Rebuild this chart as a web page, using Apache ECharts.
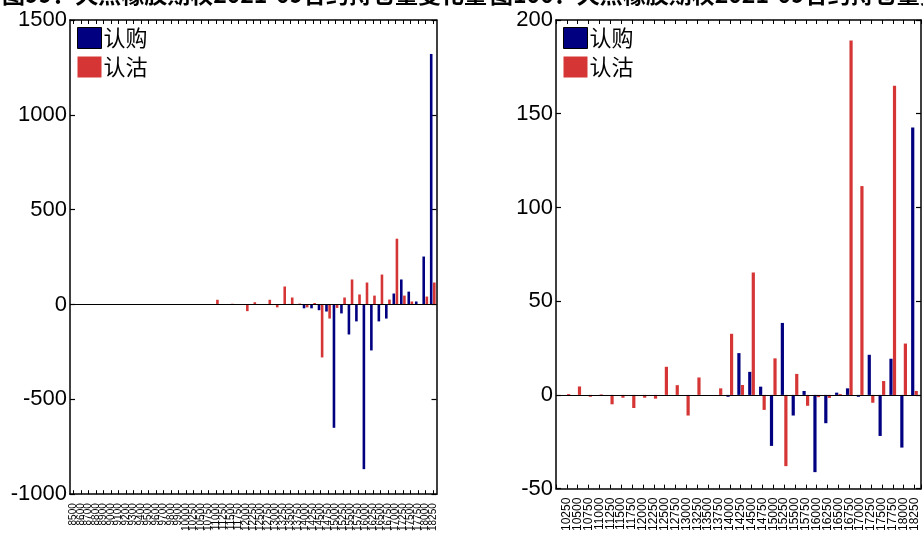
<!DOCTYPE html>
<html>
<head>
<meta charset="utf-8">
<script src="https://cdn.jsdelivr.net/npm/echarts@6/dist/echarts.min.js"></script>
<style>html,body{margin:0;padding:0;background:#fff}#c{width:923px;height:534px}</style>
</head>
<body>
<div id="c"></div>
<script>
// ---- data ----
const titleLeft = '图99：天然橡胶期权2021-09合约持仓量变化量';
const titleRight = '图100：天然橡胶期权2021-09合约持仓量变化量图';
const seriesNames = ['认购', '认沽'];

const leftCats = ['8500','8600','8700','8800','8900','9000','9100','9200','9300','9400','9500','9600','9700','9800','9900',
  '10000','10250','10500','10750','11000','11250','11500','11750','12000','12250','12500','12750','13000','13250','13500',
  '13750','14000','14250','14500','14750','15000','15250','15500','15750','16000','16250','16500','16750','17000','17250',
  '17500','17750','18000','18250'];
const leftCall = [0,0,0,0,0,0,0,0,0,0,0,0,0,0,0,
  0,0,0,0,0,0,0,0,0,0,0,0,0,0,3,
  0,-20,-20,-30,-37,-650,-47,-158,-89,-868,-242,-89,-74,58,132,
  68,16,253,1321];
const leftPut = [0,0,0,0,0,0,0,0,0,0,0,0,0,0,0,
  0,0,0,0,25,0,4,0,-35,12,0,25,-15,95,37,
  5,-15,8,-279,-74,-18,37,132,53,116,47,158,26,347,47,
  16,3,42,116];
const leftTicks = [-1000, -500, 0, 500, 1000, 1500];

const rightCats = ['10250','10500','10750','11000','11250','11500','11750','12000','12250','12500','12750','13000',
  '13250','13500','13750','14000','14250','14500','14750','15000','15250','15500','15750','16000','16250','16500',
  '16750','17000','17250','17500','17750','18000','18250'];
const rightCall = [0,0,0,0,0,0,0,0,0,0,0,0,
  0,0,0,-1,22.3,12.3,4.4,-27.2,38.4,-11,2.1,-41.2,-15.1,1.2,
  3.5,-1,21.4,-21.9,19.3,-28.1,142.6];
const rightPut = [0.5,4.5,-1,0.3,-5,-1.5,-7,-1.5,-2,15,5.2,-11,
  9.3,0,3.5,32.6,5.3,65.3,-8,19.5,-38,11.2,-5.8,-1.2,-1.6,0.5,
  189,111.4,-4.2,7.4,164.9,27.4,2.1];
const rightTicks = [-50, 0, 50, 100, 150, 200];

// ---- chart ----
const BLUE = '#000080', RED = '#d63535';
const axLine = {show: true, onZero: false, lineStyle: {color: '#000', width: 1.5}};
const chart = echarts.init(document.getElementById('c'));

function yAxes(grid, ticks, showLabel, pos) {
  return {
    type: 'value', gridIndex: grid, position: pos,
    min: ticks[0], max: ticks[ticks.length - 1], interval: ticks[1] - ticks[0],
    axisLine: axLine, axisTick: {show: true, inside: true, length: 5, lineStyle: {color: '#000', width: 1.2}},
    axisLabel: {show: showLabel, color: '#000', fontSize: 22, fontFamily: 'Liberation Sans', margin: 3,
      formatter: v => String(v)},
    splitLine: {show: false}
  };
}
const zeroLine = {silent: true, symbol: 'none', label: {show: false},
  lineStyle: {color: '#000', width: 1, type: 'solid'}, data: [{yAxis: 0}]};

const rMin = 10000, rMax = 18400, rStep = 250;
const rightSet = new Set(rightCats.map(Number));
const legendData = [{name: seriesNames[0], itemStyle: {borderColor: '#000', borderWidth: 1}}, {name: seriesNames[1]}];

chart.setOption({
  animation: false,
  graphic: [
    {type: 'text', left: 2, top: -17, style: {text: titleLeft, fontSize: 23, fontWeight: 'bold', fill: '#000', fontFamily: 'Noto Sans CJK SC'}},
    {type: 'text', left: 490, top: -17, style: {text: titleRight, fontSize: 23, fontWeight: 'bold', fill: '#000', fontFamily: 'Noto Sans CJK SC'}}
  ],
  legend: [
    {left: 77, top: 27, orient: 'vertical', icon: 'rect', itemWidth: 24, itemHeight: 21, itemGap: 7, padding: 0,
     textStyle: {fontSize: 22, color: '#000', fontFamily: 'Noto Sans CJK SC', padding: [0,0,0,-3]}, data: legendData},
    {left: 563, top: 27, orient: 'vertical', icon: 'rect', itemWidth: 24, itemHeight: 21, itemGap: 7, padding: 0,
     textStyle: {fontSize: 22, color: '#000', fontFamily: 'Noto Sans CJK SC', padding: [0,0,0,-3]}, data: legendData}
  ],
  grid: [
    {left: 70, top: 20, width: 366.5, height: 475},
    {left: 556, top: 20, width: 365, height: 475}
  ],
  xAxis: [
    {type: 'category', gridIndex: 0, position: 'bottom', data: leftCats, boundaryGap: true,
     axisLine: axLine, axisTick: {show: true, inside: true, length: 4, alignWithLabel: true, interval: 0, lineStyle: {color: '#000'}},
     axisLabel: {rotate: 90, interval: 0, fontSize: 10, color: '#000', fontFamily: 'Liberation Sans', margin: 9}},
    {type: 'category', gridIndex: 0, position: 'top', data: leftCats, boundaryGap: true,
     axisLine: axLine, axisTick: {show: true, inside: true, length: 4, alignWithLabel: true, interval: 0, lineStyle: {color: '#000'}},
     axisLabel: {show: false}},
    {type: 'value', gridIndex: 1, position: 'bottom', min: rMin, max: rMax, interval: rStep,
     axisLine: axLine, axisTick: {show: true, inside: true, length: 4, lineStyle: {color: '#000'}},
     axisLabel: {rotate: 90, fontSize: 12, color: '#000', fontFamily: 'Liberation Sans', margin: 9,
       showMinLabel: true, showMaxLabel: true,
       formatter: v => rightSet.has(v) ? String(v) : ''},
     splitLine: {show: false}},
    {type: 'value', gridIndex: 1, position: 'top', min: rMin, max: rMax, interval: rStep,
     axisLine: axLine, axisTick: {show: true, inside: true, length: 4, lineStyle: {color: '#000'}},
     axisLabel: {show: false}, splitLine: {show: false}}
  ],
  yAxis: [
    yAxes(0, leftTicks, true, 'left'),
    yAxes(0, leftTicks, false, 'right'),
    yAxes(1, rightTicks, true, 'left'),
    yAxes(1, rightTicks, false, 'right')
  ],
  series: [
    {name: seriesNames[0], type: 'bar', xAxisIndex: 0, yAxisIndex: 0, data: leftCall, barWidth: 2.6, barGap: '20%',
     itemStyle: {color: BLUE}, markLine: zeroLine},
    {name: seriesNames[1], type: 'bar', xAxisIndex: 0, yAxisIndex: 0, data: leftPut, barWidth: 2.6, barGap: '20%',
     itemStyle: {color: RED}},
    {name: seriesNames[0], type: 'bar', xAxisIndex: 2, yAxisIndex: 2, data: rightCats.map((c, i) => [Number(c), rightCall[i]]),
     barWidth: 3.2, barGap: '10%', itemStyle: {color: BLUE}, markLine: zeroLine},
    {name: seriesNames[1], type: 'bar', xAxisIndex: 2, yAxisIndex: 2, data: rightCats.map((c, i) => [Number(c), rightPut[i]]),
     barWidth: 3.2, barGap: '10%', itemStyle: {color: RED}}
  ]
});
</script>
</body>
</html>
